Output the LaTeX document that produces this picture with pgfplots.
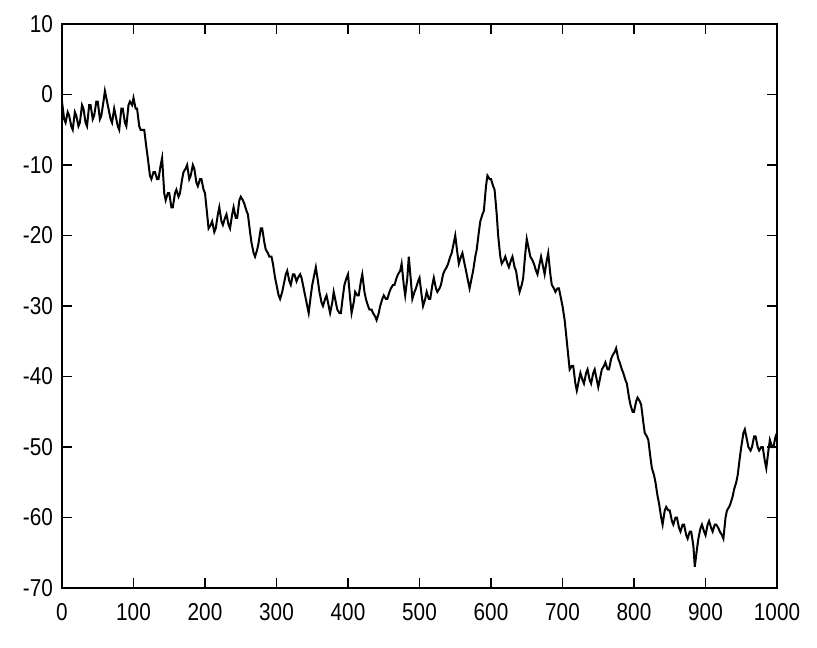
\documentclass[border=0pt]{standalone}
\usepackage{fontspec}
\setmainfont[FakeStretch=0.85]{Liberation Sans}
\usepackage{pgfplots}
\pgfplotsset{compat=1.18}
\begin{document}
\begin{tikzpicture}
\path[use as bounding box] (-31pt,-29.5pt) rectangle (377.5pt,294pt);
\begin{axis}[
  at={(0,0)}, anchor=south west,
  width=357.5pt, height=282pt, scale only axis,
  xmin=0, xmax=1000, ymin=-70, ymax=10,
  xtick={0,100,...,1000}, ytick={-70,-60,...,10},
  xticklabels={0,100,200,300,400,500,600,700,800,900,1000},
  yticklabels={-70,-60,-50,-40,-30,-20,-10,0,10},
  tick align=inside, tick pos=both, major tick length=5pt,
  axis line style={line width=0.8pt}, every tick/.style={black, line width=0.8pt},
  tick label style={font=\fontsize{12.2}{14}\selectfont},
  xticklabel style={yshift=-4pt},
  yticklabel style={xshift=-1pt},
]
\addplot[black, line width=1pt] coordinates {
(0,-1)(3,-3.5)(5,-4)(8,-2.5)(10,-3)(13,-4.5)(15,-5)(18,-2.5)(20,-3)(23,-4.5)(25,-4)(28,-1.5)(30,-2)(33,-4)(35,-4.5)(38,-1.5)(40,-1.5)(43,-3.5)(45,-3)(48,-1)(50,-1)(53,-3.5)(55,-3)(58,-1)(60,0.5)(63,-1)(65,-2)(68,-3.5)(70,-4)(73,-2)(75,-3)(78,-4.5)(80,-5)(83,-2)(85,-2)(88,-4)(90,-4.5)(93,-1.5)(95,-1)(98,-1.5)(100,-0.5)(103,-2)(105,-2)(108,-4.5)(110,-5)(113,-5)(115,-5)(118,-7.5)(120,-9)(123,-11.5)(125,-12)(128,-11)(130,-11)(133,-12)(135,-12)(138,-10)(140,-9)(143,-14)(145,-15)(148,-14)(150,-14)(153,-16)(155,-16)(158,-14)(160,-13.5)(163,-14.5)(165,-14)(168,-12)(170,-11)(173,-10.5)(175,-10)(178,-12)(180,-11.5)(183,-10)(185,-10.5)(188,-12.5)(190,-13)(193,-12)(195,-12)(198,-13.5)(200,-14)(203,-17)(205,-19)(208,-18.5)(210,-18)(213,-19.5)(215,-19)(218,-17)(220,-16)(223,-18)(225,-18.5)(228,-17.5)(230,-17)(233,-18.5)(235,-19)(238,-17)(240,-16)(243,-17.5)(245,-17.5)(248,-15)(250,-14.5)(253,-15)(255,-15.5)(258,-16.5)(260,-17)(263,-19.5)(265,-21)(268,-22.5)(270,-23)(273,-22)(275,-21)(278,-19)(280,-19)(283,-21)(285,-22)(288,-22.5)(290,-23)(293,-23)(295,-24)(298,-26)(300,-27)(303,-28.5)(305,-29)(308,-28)(310,-27)(313,-25.5)(315,-25)(318,-26.5)(320,-27)(323,-25.5)(325,-25.5)(328,-26.5)(330,-26)(333,-25.5)(335,-26)(338,-27.5)(340,-28.5)(343,-30)(345,-31)(348,-28.5)(350,-27)(353,-25.5)(355,-24.5)(358,-26.5)(360,-28)(363,-29.5)(365,-30)(368,-29)(370,-28.5)(373,-30)(375,-31)(378,-29.5)(380,-28)(383,-29.5)(385,-30.5)(388,-31)(390,-31)(393,-28.5)(395,-27)(398,-26)(400,-25.5)(403,-29)(405,-31)(408,-29.5)(410,-28)(413,-28.5)(415,-28.5)(418,-26.5)(420,-25.5)(423,-28)(425,-29)(428,-30)(430,-30.5)(433,-30.5)(435,-31)(438,-31.5)(440,-32)(443,-31)(445,-30)(448,-29)(450,-28.5)(453,-29)(455,-29)(458,-28)(460,-27.5)(463,-27)(465,-27)(468,-26)(470,-25.5)(473,-25)(475,-24)(478,-27)(480,-28.5)(483,-26)(485,-23)(488,-26.5)(490,-29)(493,-28)(495,-27.5)(498,-26.5)(500,-26)(503,-28.5)(505,-30)(508,-29)(510,-28)(513,-29)(515,-29)(518,-27)(520,-26)(523,-27.5)(525,-28)(528,-27.5)(530,-27)(533,-25.5)(535,-25)(538,-24.5)(540,-24)(543,-23)(545,-22.5)(548,-21)(550,-20)(553,-22.5)(555,-24)(558,-23)(560,-22.5)(563,-24)(565,-25)(568,-26.5)(570,-27.5)(573,-26)(575,-25)(578,-23)(580,-22)(583,-19.5)(585,-18)(588,-17)(590,-16.5)(593,-13)(595,-11.5)(598,-12)(600,-12)(603,-13)(605,-13.5)(608,-17)(610,-20)(613,-23)(615,-24)(618,-23.5)(620,-23)(623,-24)(625,-24.5)(628,-23.5)(630,-23)(633,-24.5)(635,-25)(638,-27)(640,-28)(643,-27)(645,-26)(648,-22.5)(650,-20.5)(653,-22)(655,-23)(658,-23.5)(660,-24)(663,-25)(665,-25.5)(668,-24)(670,-23)(673,-24.5)(675,-25.5)(678,-23.5)(680,-22.5)(683,-25.5)(685,-27)(688,-27.5)(690,-28)(693,-27.5)(695,-27.5)(698,-29)(700,-30)(703,-32)(705,-34)(708,-37)(710,-39)(713,-38.5)(715,-38.5)(718,-41)(720,-42)(723,-40.5)(725,-39.5)(728,-40.5)(730,-41)(733,-39.5)(735,-39)(738,-40.5)(740,-41)(743,-39.5)(745,-39)(748,-40.5)(750,-41.5)(753,-40)(755,-39)(758,-38.5)(760,-38)(763,-39)(765,-39)(768,-37.5)(770,-37)(773,-36.5)(775,-36)(778,-37.5)(780,-38)(783,-39)(785,-39.5)(788,-40.5)(790,-41)(793,-43)(795,-44)(798,-45)(800,-45)(803,-43.5)(805,-43)(808,-43.5)(810,-44)(813,-46.5)(815,-48)(818,-48.5)(820,-49)(823,-51.5)(825,-53)(828,-54)(830,-55)(833,-57)(835,-58)(838,-60)(840,-61)(843,-59)(845,-58.5)(848,-59)(850,-59)(853,-60.5)(855,-61)(858,-60)(860,-60)(863,-61.5)(865,-62)(868,-61)(870,-61)(873,-62.5)(875,-63)(878,-62)(880,-62)(883,-64)(885,-67)(888,-64.5)(890,-63)(893,-61.5)(895,-61)(898,-62)(900,-62.5)(903,-61)(905,-60.5)(908,-61.5)(910,-62)(913,-61)(915,-61)(918,-61.5)(920,-62)(923,-62.5)(925,-63)(928,-60)(930,-59)(933,-58.5)(935,-58)(938,-57)(940,-56)(943,-55)(945,-54)(948,-51.5)(950,-50)(953,-48)(955,-47.5)(958,-49)(960,-50)(963,-50.5)(965,-50)(968,-48.5)(970,-48.5)(973,-50)(975,-50.5)(978,-50)(980,-50)(983,-52)(985,-53)(988,-50.5)(990,-49)(993,-50)(995,-50)(998,-48.5)(1000,-48)
};
\end{axis}
\end{tikzpicture}
\end{document}
